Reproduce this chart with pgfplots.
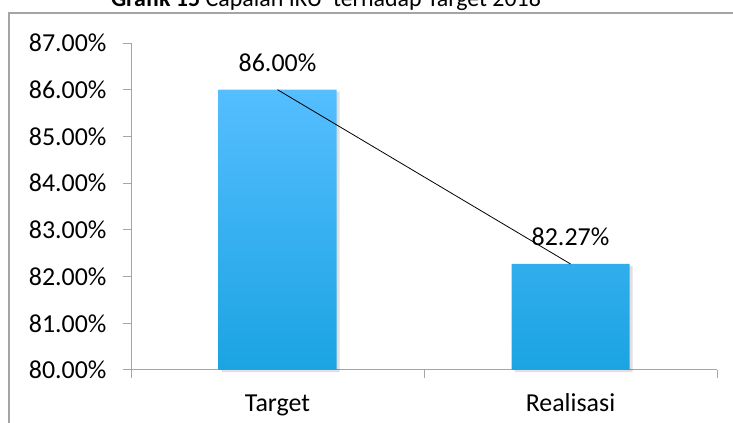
\documentclass[border=0pt]{standalone}
\usepackage{pgfplots}
\pgfplotsset{compat=1.18}
\usepackage{fontspec}
\setmainfont{Carlito}

\definecolor{bartop}{RGB}{85,190,255}
\definecolor{barbot}{RGB}{27,163,226}
\definecolor{axgray}{RGB}{165,165,165}

\begin{document}
\begin{tikzpicture}
  \useasboundingbox (0,0) rectangle (733bp,423bp);
  \clip (0,0) rectangle (733bp,423bp);
  % frame of the chart area (cut at the edges)
  \draw[axgray, line width=1.3bp] (9bp,-5bp) -- (9bp,410bp) -- (745bp,410bp);
  \node[anchor=base, font=\fontsize{24}{28}\selectfont] at (326bp,416bp)
    {\textbf{Grafik 15} Capaian IKU\ \ terhadap Target 2018};
  \begin{axis}[
      at={(131bp,53bp)}, anchor=south west,
      scale only axis, width=586bp, height=327bp,
      xmin=-0.5, xmax=1.5, ymin=80, ymax=87,
      axis lines*=left,
      axis line style={axgray, line width=1bp},
      tick align=outside,
      major tick length=8bp,
      tick style={axgray, line width=1bp},
      xtick={-0.5,0.5,1.5},
      xticklabels={Target,Realisasi},
      x tick label as interval,
      ytick={80,81,...,87},
      yticklabel={\pgfmathprintnumber[fixed,fixed zerofill,precision=2]{\tick}\%},
      /pgf/number format/assume math mode=true,
      ticklabel style={font=\fontsize{26}{30}\selectfont},
      yticklabel style={xshift=-13bp},
      xticklabel style={anchor=base, yshift=-34bp},
      clip=false,
    ]
    % soft shadow behind the bars
    \addplot[ybar, bar width=118bp, draw=none, fill=black, fill opacity=0.12,
      xshift=3bp, yshift=-2bp] coordinates {(0,86) (1,82.27)};
    \addplot[ybar, bar width=118bp, draw=none,
      top color=bartop, bottom color=barbot,
      nodes near coords={\pgfmathprintnumber[fixed,fixed zerofill,precision=2]{\pgfplotspointmeta}\%},
      nodes near coords style={anchor=base, yshift=18bp, font=\fontsize{26}{30}\selectfont, text=black},
    ] coordinates {(0,86) (1,82.27)};
    \addplot[black, line width=0.8bp, mark=none] coordinates {(0,86) (1,82.27)};
  \end{axis}
\end{tikzpicture}
\end{document}
